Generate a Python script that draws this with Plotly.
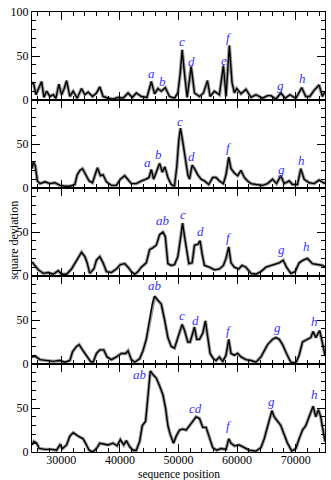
import plotly.graph_objects as go
from plotly.subplots import make_subplots

# ---- data (sequence position, square deviation) ----
p1_pos = [25000, 25230, 25680, 26250, 26640, 27040, 27490, 28060, 28630, 29080, 29590, 30050,
          30440, 30900, 31460, 32030, 32710, 33450, 34020, 34580, 35320, 36000, 36570, 37130,
          37980, 38830, 39690, 40540, 41390, 42120, 42800, 43650, 44620, 45360, 45920, 46490,
          47060, 47740, 48470, 49320, 49890, 50290, 50630, 51090, 51480, 52160, 52730, 53580,
          54260, 54940, 55390, 56130, 56980, 57660, 58110, 58680, 59130, 59530, 59930, 60670,
          61510, 62370, 63220, 64350, 65200, 65770, 66620, 67470, 68200, 69000, 70020, 71040,
          71720, 72400, 73140, 73990, 74560, 75000]
p1_dev = [18, 20, 6, 14, 21, 3, 10, 4, 6, 2, 18, 6,
          12, 22, 4, 10, 2, 13, 6, 9, 4, 8, 15, 4,
          2, 1, 3, 2, 8, 3, 8, 4, 3, 21, 7, 13,
          10, 14, 4, 2, 8, 30, 57, 25, 3, 38, 8, 4,
          8, 22, 4, 10, 6, 39, 4, 62, 20, 8, 13, 7,
          12, 3, 6, 2, 5, 5, 1, 8, 2, 6, 2, 14,
          4, 4, 11, 17, 4, 10]
p1_labels = ["a", "b", "c", "d", "e", "f", "g", "h"]
p1_label_pos = [45360, 47340, 50630, 52270, 57720, 58680, 67470, 71150]
p1_label_dev = [30, 21, 66, 44, 45, 71, 17, 25]

p2_pos = [25000, 25230, 25570, 25910, 26360, 27210, 28060, 28910, 29760, 30610, 31460, 32310,
          32710, 33170, 33620, 34190, 34750, 35320, 35720, 36170, 36680, 37130, 37700, 38550,
          39400, 40080, 40820, 41390, 41950, 42800, 43650, 44500, 44960, 45360, 45750, 46210,
          46780, 47230, 47680, 48190, 48760, 49320, 49720, 50060, 50340, 50740, 51200, 51590,
          51880, 52330, 52730, 53290, 53860, 54430, 55160, 55840, 56410, 56980, 57660, 58110,
          58570, 58960, 59530, 60100, 60670, 61230, 61800, 62370, 63220, 64350, 65200, 66050,
          66730, 67470, 68030, 68890, 69450, 70300, 70870, 71440, 72290, 73140, 73990, 74560, 75000]
p2_dev = [22, 30, 25, 8, 5, 7, 5, 6, 3, 2, 2, 4,
          15, 20, 22, 15, 8, 6, 15, 23, 14, 15, 7, 3,
          3, 10, 14, 10, 5, 5, 8, 10, 12, 21, 10, 18,
          28, 18, 24, 12, 4, 2, 25, 55, 68, 52, 30, 15,
          10, 26, 22, 15, 10, 8, 4, 12, 12, 8, 5, 15,
          35, 22, 17, 14, 20, 12, 8, 5, 4, 3, 5, 10,
          5, 14, 5, 8, 4, 4, 22, 10, 6, 5, 9, 7, 5]
p2_labels = ["a", "b", "c", "d", "f", "g", "h"]
p2_label_pos = [44790, 46660, 50180, 52270, 58570, 67640, 70980]
p2_label_dev = [29, 38, 75, 36, 46, 21, 31]

p3_pos = [25000, 25510, 26080, 26930, 27780, 28630, 29480, 30050, 30900, 31750, 32710, 33450,
          34020, 34410, 34860, 35550, 36000, 36570, 37130, 37700, 38550, 39400, 40080, 40820,
          41390, 41950, 42520, 43090, 43650, 44500, 45070, 45640, 46210, 46780, 47340, 47740,
          48190, 48760, 49320, 49890, 50290, 50690, 51030, 51430, 51770, 52330, 52730, 53290,
          53690, 54030, 54430, 55280, 56130, 56980, 57660, 58110, 58570, 58960, 59530, 60270,
          60840, 61510, 62370, 63220, 64070, 64920, 65770, 66620, 67190, 67870, 68430, 69170,
          69910, 70590, 71270, 72000, 72850, 73710, 74560, 75000]
p3_dev = [16, 12, 7, 3, 4, 2, 6, 2, 2, 8, 18, 27,
          22, 15, 3, 8, 18, 22, 15, 5, 4, 8, 13, 14,
          10, 5, 2, 5, 10, 15, 30, 32, 35, 47, 50, 45,
          14, 12, 13, 22, 40, 60, 45, 25, 14, 15, 35, 36,
          40, 25, 12, 10, 7, 8, 12, 20, 33, 15, 10, 8,
          12, 10, 3, 2, 5, 10, 12, 14, 15, 18, 10, 3,
          5, 15, 18, 20, 14, 13, 12, 10]
p3_labels = ["ab", "c", "d", "f", "g", "h"]
p3_label_pos = [47340, 50690, 53690, 58570, 67640, 71830]
p3_label_dev = [63, 70, 50, 44, 30, 33]

p4_pos = [25000, 25510, 26360, 27490, 28630, 29760, 30610, 31460, 31920, 32600, 33050, 33730,
          34300, 34980, 35430, 36000, 36570, 37250, 37810, 38550, 39400, 40250, 40990, 41390,
          41950, 42520, 43370, 43940, 44500, 45070, 45530, 45920, 46490, 47060, 47630, 48190,
          48760, 49320, 49890, 50630, 51030, 51590, 51990, 52440, 52730, 53120, 53580, 54140,
          54600, 55000, 55390, 55960, 56410, 56980, 57550, 58110, 58570, 58960, 59530, 60100,
          60670, 61510, 62370, 63220, 64070, 64630, 65200, 66050, 66620, 67190, 67760, 68430,
          69170, 70020, 70590, 71160, 72000, 72570, 72970, 73420, 74110, 74670, 75000]
p4_dev = [8, 9, 5, 4, 3, 4, 2, 4, 14, 20, 22, 15,
          10, 3, 2, 12, 16, 16, 8, 5, 8, 12, 12, 15,
          5, 2, 6, 15, 28, 48, 68, 77, 72, 68, 50, 30,
          20, 18, 30, 45, 38, 25, 25, 35, 42, 28, 28, 35,
          49, 30, 12, 6, 4, 8, 3, 10, 28, 12, 10, 12,
          8, 5, 4, 2, 8, 15, 22, 28, 30, 28, 22, 12,
          2, 1, 10, 25, 28, 30, 37, 30, 38, 20, 10]
p4_labels = ["ab", "c", "d", "f", "g", "h"]
p4_label_pos = [45920, 50630, 52900, 58570, 66900, 73140]
p4_label_dev = [89, 55, 50, 38, 41, 48]

p5_pos = [25000, 25340, 25790, 26250, 27210, 28350, 29200, 29760, 30220, 30900, 31460, 32030,
          32880, 33730, 34300, 34750, 35430, 36110, 36570, 37130, 37980, 38830, 39520, 40080,
          40650, 41100, 41670, 42240, 42800, 43370, 43820, 44390, 44790, 45190, 45640, 46210,
          46780, 47340, 47790, 48190, 48590, 49150, 49610, 50180, 50740, 51310, 51880, 52440,
          53000, 53580, 54140, 54710, 55280, 55840, 56520, 57260, 58110, 58570, 58960, 59530,
          60380, 61230, 62080, 63220, 64070, 64630, 65200, 65600, 65940, 66340, 66900, 67470,
          68030, 68600, 69340, 70020, 70590, 71160, 71720, 72290, 72970, 73420, 73880, 74270,
          74670, 75000]
p5_dev = [8, 12, 10, 4, 3, 3, 2, 8, 4, 8, 18, 22,
          18, 15, 8, 2, 0, 5, 10, 9, 8, 10, 7, 14,
          8, 13, 6, 2, 2, 12, 30, 35, 60, 92, 88, 84,
          75, 65, 50, 30, 20, 10, 18, 25, 26, 25, 30, 35,
          40, 38, 28, 28, 15, 5, 2, 4, 3, 15, 10, 7,
          8, 5, 2, 1, 5, 15, 30, 38, 47, 40, 35, 30,
          20, 10, 1, 4, 15, 25, 30, 40, 52, 40, 48, 40,
          22, 12]
p5_labels = ["ab", "cd", "f", "g", "h"]
p5_label_pos = [43370, 52900, 58570, 65940, 73140]
p5_label_dev = [88, 49, 30, 57, 65]

panels = [
    (p1_pos, p1_dev, p1_labels, p1_label_pos, p1_label_dev),
    (p2_pos, p2_dev, p2_labels, p2_label_pos, p2_label_dev),
    (p3_pos, p3_dev, p3_labels, p3_label_pos, p3_label_dev),
    (p4_pos, p4_dev, p4_labels, p4_label_pos, p4_label_dev),
    (p5_pos, p5_dev, p5_labels, p5_label_pos, p5_label_dev),
]

FONT = "Liberation Serif, Times New Roman, serif"
LABEL_BLUE = "#3434ff"

fig = make_subplots(rows=5, cols=1, shared_xaxes=True, vertical_spacing=0)

for i, (pos, dev, labels, lpos, ldev) in enumerate(panels, start=1):
    # grey halo under the black trace, mimics the fuzzy band
    fig.add_trace(go.Scatter(x=pos, y=dev, mode="lines",
                             line=dict(color="#9a9a9a", width=3.4),
                             hoverinfo="skip", showlegend=False), row=i, col=1)
    fig.add_trace(go.Scatter(x=pos, y=dev, mode="lines",
                             line=dict(color="black", width=1.4),
                             showlegend=False), row=i, col=1)
    suffix = "" if i == 1 else str(i)
    for txt, x, y in zip(labels, lpos, ldev):
        fig.add_annotation(x=x, y=y, xref="x" + suffix, yref="y" + suffix,
                           text="<i>%s</i>" % txt, showarrow=False,
                           font=dict(family=FONT, size=13, color=LABEL_BLUE))

    fig.update_yaxes(
        range=[0, 100], tickvals=[0, 50, 100],
        ticktext=["0", "50", "100" if i == 1 else ""],
        ticks="inside", ticklen=8, tickwidth=1, tickcolor="black",
        minor=dict(dtick=10, ticks="inside", ticklen=4, tickcolor="black"),
        showline=True, linecolor="black", linewidth=1, mirror="allticks",
        showgrid=False, zeroline=False, ticklabeloverflow="allow",
        tickfont=dict(family=FONT, size=12, color="black"),
        row=i, col=1)

fig.update_xaxes(
    range=[25000, 75000], dtick=10000, tick0=0,
    ticks="inside", ticklen=8, tickwidth=1, tickcolor="black",
    minor=dict(dtick=2000, ticks="inside", ticklen=4, tickcolor="black"),
    showline=True, linecolor="black", linewidth=1, mirror="allticks",
    showgrid=False, zeroline=False, showticklabels=False,
    ticklabeloverflow="allow",
    tickfont=dict(family=FONT, size=12, color="black"))
fig.update_xaxes(showticklabels=True, tickformat="d", ticklabelstandoff=-3, row=5, col=1)

fig.add_annotation(text="sequence position", xref="paper", yref="paper",
                   x=0.5, y=0, yanchor="middle", yshift=-22, showarrow=False,
                   borderpad=0, font=dict(family=FONT, size=11.5, color="black"))
fig.add_annotation(text="square deviation", xref="paper", yref="paper",
                   x=0, y=0.48, textangle=-90, xshift=-26, showarrow=False,
                   borderpad=0, font=dict(family=FONT, size=12, color="black"))

fig.update_layout(
    width=331, height=480,
    margin=dict(l=32, r=5, t=6, b=28),
    paper_bgcolor="white", plot_bgcolor="white",
    showlegend=False,
)

# the page body has a default 8px margin; drop it so the chart fills the window
fig.write_html("out.html", config={"displayModeBar": False},
               post_script="document.body.style.margin = '0';")
